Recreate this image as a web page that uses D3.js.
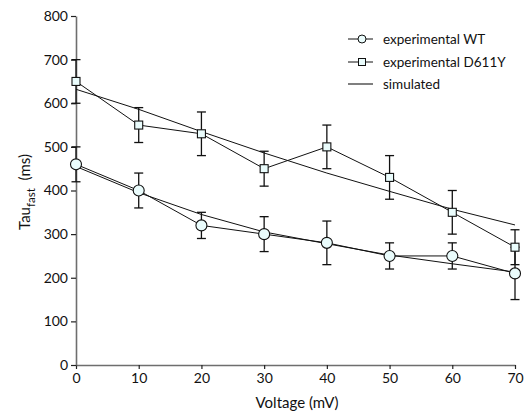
<!DOCTYPE html>
<html><head><meta charset="utf-8">
<script src="https://cdn.jsdelivr.net/npm/d3@7"></script>
<style>body{margin:0;background:#fff}svg{display:block}text{font-family:Lato,"Noto Sans",sans-serif}</style>
</head><body><svg id="c" width="526" height="414"></svg>
<script>
const voltages = [0, 10, 20, 30, 40, 50, 60, 70];
const wtMean = [460, 400, 320, 300, 280, 250, 250, 210];
const wtErr = [40, 40, 30, 40, 50, 30, 30, 60];
const mutMean = [650, 550, 530, 450, 500, 430, 350, 270];
const mutErr = [50, 40, 50, 40, 50, 50, 50, 40];
const wtSim = [455, 395, 345, 305, 278, 252, 232, 213];
const mutSim = [632, 586, 535, 486, 440, 398, 357, 321];
const xTicks = [0, 10, 20, 30, 40, 50, 60, 70];
const yTicks = [0, 100, 200, 300, 400, 500, 600, 700, 800];
const legendLabels = ["experimental WT", "experimental D611Y", "simulated"];

const svg = d3.select("#c");
const x = d3.scaleLinear().domain([0, 70]).range([76, 515]);
const y = d3.scaleLinear().domain([0, 800]).range([365, 16]);
const axisColor = "#6e6e6e";

const gx = svg.append("g").attr("transform", "translate(0,365)")
  .call(d3.axisBottom(x).tickValues(xTicks).tickSize(4).tickPadding(4).tickSizeOuter(0));
const gy = svg.append("g").attr("transform", "translate(76,0)")
  .call(d3.axisLeft(y).tickValues(yTicks).tickSize(5).tickPadding(3).tickSizeOuter(0));
[gx, gy].forEach(g => {
  g.select(".domain").attr("stroke", axisColor).attr("stroke-width", 1.6);
  g.selectAll(".tick line").attr("stroke", "#222").attr("stroke-width", 1.2);
  g.selectAll(".tick text").attr("fill", "#111").style("font-size", "14px");
});

const line = d3.line().x((d, i) => x(voltages[i])).y(d => y(d));
const simStyle = p => p.attr("fill", "none").attr("stroke", "#111").attr("stroke-width", 1);
simStyle(svg.append("path").datum(wtSim).attr("d", line));
simStyle(svg.append("path").datum(mutSim).attr("d", line));

function errorBars(mean, err) {
  const g = svg.append("g").attr("stroke", "#111").attr("stroke-width", 1.3);
  voltages.forEach((v, i) => {
    const cx = x(v), lo = y(mean[i] - err[i]), hi = y(mean[i] + err[i]);
    g.append("line").attr("x1", cx).attr("x2", cx).attr("y1", lo).attr("y2", hi);
    g.append("line").attr("x1", cx - 4.5).attr("x2", cx + 4.5).attr("y1", lo).attr("y2", lo);
    g.append("line").attr("x1", cx - 4.5).attr("x2", cx + 4.5).attr("y1", hi).attr("y2", hi);
  });
}
errorBars(mutMean, mutErr);
errorBars(wtMean, wtErr);

simStyle(svg.append("path").datum(mutMean).attr("d", line));
simStyle(svg.append("path").datum(wtMean).attr("d", line));

const fillC = "#eafcfc";
svg.append("g").selectAll("rect").data(mutMean).join("rect")
  .attr("x", (d, i) => x(voltages[i]) - 4).attr("y", d => y(d) - 4)
  .attr("width", 8).attr("height", 8)
  .attr("fill", fillC).attr("stroke", "#111").attr("stroke-width", 1.1);
svg.append("g").selectAll("circle").data(wtMean).join("circle")
  .attr("cx", (d, i) => x(voltages[i])).attr("cy", d => y(d)).attr("r", 5.5)
  .attr("fill", fillC).attr("stroke", "#111").attr("stroke-width", 1.1);

// legend
const ly = [39, 62, 84];
legendLabels.forEach((lab, i) => {
  const g = svg.append("g");
  g.append("line").attr("x1", 348).attr("x2", 373).attr("y1", ly[i]).attr("y2", ly[i])
    .attr("stroke", i === 2 ? "#555" : "#111").attr("stroke-width", i === 2 ? 1.5 : 1);
  if (i === 0) g.append("circle").attr("cx", 362).attr("cy", ly[i]).attr("r", 4)
    .attr("fill", fillC).attr("stroke", "#111");
  if (i === 1) g.append("rect").attr("x", 358.5).attr("y", ly[i] - 3.5).attr("width", 7).attr("height", 7)
    .attr("fill", fillC).attr("stroke", "#111");
  g.append("text").attr("x", 383).attr("y", ly[i]).attr("dy", "0.35em")
    .style("font-size", "13.5px").attr("fill", "#111").text(lab);
});

// axis labels
svg.append("text").attr("x", 297).attr("y", 408).attr("text-anchor", "middle")
  .style("font-size", "15px").attr("fill", "#111").text("Voltage (mV)");
const yl = svg.append("text").attr("transform", "translate(30,192) rotate(-90)")
  .attr("text-anchor", "middle").style("font-size", "15px").attr("fill", "#111");
yl.append("tspan").text("Tau");
yl.append("tspan").attr("dy", 5).style("font-size", "11.5px").text("fast");
yl.append("tspan").attr("dy", -5).attr("dx", 4).text(" (ms)");
</script></body></html>
